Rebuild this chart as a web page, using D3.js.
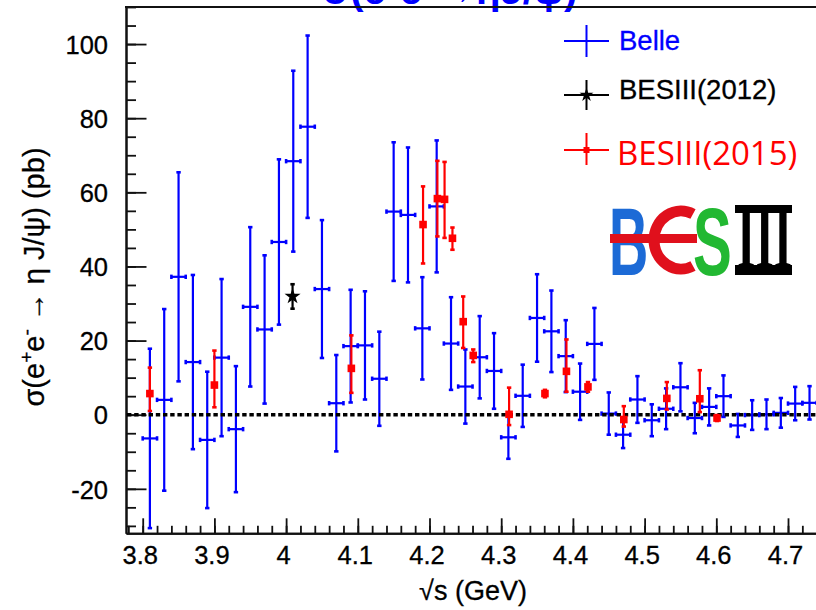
<!DOCTYPE html>
<html><head><meta charset="utf-8">
<script src="https://cdn.jsdelivr.net/npm/d3@7"></script>
<style>body{margin:0;background:#fff;} svg{display:block;}</style>
</head><body>
<svg id="c" width="816" height="610"></svg>
<script>
// ---------- data ----------
const belleX = [3.81,3.83,3.85,3.87,3.89,3.91,3.93,3.95,3.97,3.99,4.01,4.03,4.05,4.07,4.09,4.11,4.13,4.15,4.17,4.19,4.21,4.23,4.25,4.27,4.29,4.31,4.33,4.35,4.37,4.39,4.41,4.43,4.45,4.47,4.49,4.51,4.53,4.55,4.57,4.59,4.61,4.63,4.65,4.67,4.69,4.71,4.73];
const belleY = [-6.4,4.0,37.2,14.2,-6.8,15.4,-3.9,29.1,23.0,46.6,68.4,77.7,33.9,3.1,18.5,18.7,9.7,54.8,53.9,23.3,56.2,19.2,7.6,15.5,11.8,-6.1,5.1,26.1,22.5,15.8,6.2,19.1,0.3,-5.4,4.1,-1.5,1.6,7.4,-0.9,2.1,5.0,-2.9,-0.1,0.1,0.5,3.0,3.2];
const belleErr = [24.2,24.5,28.2,23.5,18.4,21.2,17.0,21.5,20.0,22.3,24.4,24.6,18.6,13.0,15.2,14.6,12.7,18.7,18.2,13.8,17.8,12.5,10.0,11.1,10.2,5.8,8.4,11.8,11.0,9.7,7.6,9.7,5.7,3.6,6.3,4.3,5.5,6.5,4.1,5.0,5.6,3.1,4.0,4.0,4.0,4.5,4.5];
const belleHalfBin = 0.01;

const bes15X = [3.810,3.900,4.091,4.191,4.211,4.221,4.232,4.247,4.261,4.311,4.361,4.391,4.421,4.471,4.531,4.577,4.601];
const bes15Y = [5.7,8.0,12.5,51.3,58.3,58.1,47.6,25.1,16.0,0.1,5.7,11.7,7.5,-1.3,4.4,4.3,-0.9];
const bes15ErrUp = [7.0,9.3,8.9,10.3,10.2,10.1,2.9,6.8,1.6,7.2,1.0,8.6,1.3,3.6,4.4,7.7,0.8];
const bes15ErrDn = [4.7,6.0,6.6,10.5,10.2,10.4,3.1,7.1,1.8,2.9,1.0,5.5,1.3,1.9,3.0,3.6,0.8];

const bes12X = [4.009];
const bes12Y = [31.9];
const bes12Err = [3.3];

const xTicks = [3.8,3.9,4.0,4.1,4.2,4.3,4.4,4.5,4.6,4.7];
const xTickLabels = ["3.8","3.9","4","4.1","4.2","4.3","4.4","4.5","4.6","4.7"];
const yTicks = [-20,0,20,40,60,80,100];
const yTickLabels = ["-20","0","20","40","60","80","100"];
const legendLabels = ["Belle","BESIII(2012)","BESIII(2015)"];

// ---------- setup ----------
const svg = d3.select("#c");
const FONT = "'Liberation Sans', Arial, Helvetica, sans-serif";
const BLUE = "#0000ff", RED = "#ff0000", BLACK = "#000";
const L = 126, T = 7, B = 533.3, R = 845;
const x = d3.scaleLinear().domain([3.7767, 4.7767 + (R - L - 717) / 717]).range([L, R]);
const y = d3.scaleLinear().domain([-32, 110]).range([B, T]);

// title (mostly clipped at the top, as in the reference)
svg.append("text").attr("x", 450).attr("y", 4).attr("text-anchor", "middle")
  .attr("font-family", FONT).attr("font-size", 40).attr("font-weight", "bold").attr("fill", BLUE)
  .text("σ(e⁺e⁻→ηJ/ψ)");

// axes: minor ticks
const minorX = d3.range(3.78, 4.78, 0.02).map(v => +v.toFixed(2));
const minorY = d3.range(-30, 111, 5);
const gxMinor = svg.append("g").attr("transform", `translate(0,${B})`)
  .call(d3.axisBottom(x).tickValues(minorX).tickSize(-7.5).tickSizeOuter(0).tickFormat(""));
const gyMinor = svg.append("g").attr("transform", `translate(${L},0)`)
  .call(d3.axisLeft(y).tickValues(minorY).tickSize(-10).tickSizeOuter(0).tickFormat(""));
// major
const gx = svg.append("g").attr("transform", `translate(0,${B})`)
  .call(d3.axisBottom(x).tickValues(xTicks).tickSize(-15).tickSizeOuter(0).tickPadding(13)
    .tickFormat((d, i) => xTickLabels[i]));
const gy = svg.append("g").attr("transform", `translate(${L},0)`)
  .call(d3.axisLeft(y).tickValues(yTicks).tickSize(-20.5).tickSizeOuter(0).tickPadding(18)
    .tickFormat((d, i) => yTickLabels[i]));
[gxMinor, gyMinor, gx, gy].forEach(g => {
  g.selectAll("line").attr("stroke", "#111").attr("stroke-width", 1.8);
  g.select(".domain").attr("stroke", "#111").attr("stroke-width", 2);
  g.attr("font-family", FONT).attr("font-size", 25.5);
  g.selectAll("text").attr("fill", "#000").attr("stroke", "#000").attr("stroke-width", 0.3);
});
gx.selectAll("text").attr("dx", -3);
gy.selectAll("text").attr("dy", "0.36em");
// frame top
svg.append("line").attr("x1", L - 1).attr("x2", R).attr("y1", T).attr("y2", T)
  .attr("stroke", "#111").attr("stroke-width", 2);

// axis titles
svg.append("text").attr("x", 473).attr("y", 600).attr("text-anchor", "middle")
  .attr("font-family", FONT).attr("font-size", 27).attr("stroke", "#000").attr("stroke-width", 0.3)
  .text("√s (GeV)");
const yt = svg.append("text").attr("transform", "translate(44,277) rotate(-90)")
  .attr("text-anchor", "middle").attr("font-family", FONT).attr("font-size", 29)
  .attr("stroke", "#000").attr("stroke-width", 0.3);
yt.append("tspan").text("σ(e");
yt.append("tspan").attr("font-size", 19).attr("dy", -11).text("+");
yt.append("tspan").attr("dy", 11).text("e");
yt.append("tspan").attr("font-size", 19).attr("dy", -11).text("-");
yt.append("tspan").attr("dy", 11).text(" → η J/ψ) (pb)");

// ---------- marks ----------
const plot = svg.append("g");
const cap = 2.2;
function errBar(g, cx, y1, y2, color, w) {
  g.append("line").attr("x1", cx).attr("x2", cx).attr("y1", y1).attr("y2", y2)
    .attr("stroke", color).attr("stroke-width", w);
  [y1, y2].forEach(yy => g.append("line").attr("x1", cx - cap).attr("x2", cx + cap)
    .attr("y1", yy).attr("y2", yy).attr("stroke", color).attr("stroke-width", 2.6));
}
// Belle
const belle = plot.append("g");
belleX.forEach((bx, i) => {
  const cy = y(belleY[i]);
  errBar(belle, x(bx), y(belleY[i] + belleErr[i]), y(belleY[i] - belleErr[i]), BLUE, 2.2);
  const xa = x(bx - belleHalfBin), xb = x(bx + belleHalfBin);
  belle.append("line").attr("x1", xa).attr("x2", xb).attr("y1", cy).attr("y2", cy)
    .attr("stroke", BLUE).attr("stroke-width", 2.2);
  [xa, xb].forEach(xx => belle.append("line").attr("x1", xx).attr("x2", xx)
    .attr("y1", cy - cap).attr("y2", cy + cap).attr("stroke", BLUE).attr("stroke-width", 2.6));
});
// zero line
plot.append("line").attr("x1", L + 1).attr("x2", R).attr("y1", y(0)).attr("y2", y(0))
  .attr("stroke", "#000").attr("stroke-width", 3.4).attr("stroke-dasharray", "4.4,2.8");
// BESIII 2015
const b15 = plot.append("g");
bes15X.forEach((bx, i) => {
  const cx = x(bx);
  errBar(b15, cx, y(bes15Y[i] + bes15ErrUp[i]), y(bes15Y[i] - bes15ErrDn[i]), RED, 2.2);
  b15.append("rect").attr("x", cx - 3.8).attr("y", y(bes15Y[i]) - 3.8).attr("width", 7.6).attr("height", 7.6)
    .attr("fill", RED);
});
// BESIII 2012
const b12 = plot.append("g");
bes12X.forEach((bx, i) => {
  const cx = x(bx);
  errBar(b12, cx, y(bes12Y[i] + bes12Err[i]), y(bes12Y[i] - bes12Err[i]), BLACK, 2.2);
  b12.append("path").attr("d", d3.symbol(d3.symbolStar, 80)())
    .attr("transform", `translate(${cx},${y(bes12Y[i])})`).attr("fill", BLACK);
});

// ---------- legend ----------
const lg = svg.append("g");
const legRows = [
  {y: 41, color: BLUE, textY: 50, font: FONT, size: 27.5, vy: [25, 57]},
  {y: 95, color: BLACK, textY: 99, font: FONT, size: 27.5, vy: [80, 110]},
  {y: 150, color: RED, textY: 165, font: "'Open Sans', sans-serif", size: 33, vy: [133, 165]}
];
legRows.forEach((r, i) => {
  lg.append("line").attr("x1", 564).attr("x2", 609).attr("y1", r.y).attr("y2", r.y)
    .attr("stroke", r.color).attr("stroke-width", 2);
  lg.append("line").attr("x1", 586.5).attr("x2", 586.5).attr("y1", r.vy[0]).attr("y2", r.vy[1])
    .attr("stroke", r.color).attr("stroke-width", 2);
  if (i === 1) lg.append("path").attr("d", d3.symbol(d3.symbolStar, 60)())
    .attr("transform", `translate(586.5,${r.y})`).attr("fill", BLACK);
  if (i === 2) lg.append("rect").attr("x", 583.5).attr("y", r.y - 3).attr("width", 6).attr("height", 6).attr("fill", RED);
  lg.append("text").attr("x", i === 2 ? 617 : 619).attr("y", r.textY)
    .attr("font-family", r.font).attr("font-size", r.size).attr("fill", r.color)
    .attr("stroke", r.color).attr("stroke-width", i === 2 ? 0 : 0.3).text(legendLabels[i]);
});

// ---------- BESIII logo ----------
const logo = svg.append("g");
logo.append("text").attr("transform", "translate(609,275) scale(0.56,1)")
  .attr("font-family", FONT).attr("font-weight", "bold").attr("font-size", 97)
  .attr("fill", "#1c6ad6").text("B");
logo.append("path")
  .attr("d", "M693,214 A27,29 0 1 0 693,266")
  .attr("fill", "none").attr("stroke", "#e0101c").attr("stroke-width", 11);
logo.append("rect").attr("x", 610).attr("y", 234).attr("width", 87).attr("height", 9).attr("fill", "#e0101c");
logo.append("text").attr("transform", "translate(693,275) scale(0.6,1)")
  .attr("font-family", FONT).attr("font-weight", "bold").attr("font-size", 97)
  .attr("fill", "#22b832").text("S");
logo.append("rect").attr("x", 735).attr("y", 205).attr("width", 57).attr("height", 8).attr("fill", "#000");
logo.append("rect").attr("x", 735).attr("y", 265).attr("width", 57).attr("height", 10).attr("fill", "#000");
logo.append("text").attr("transform", "translate(737,268) scale(1.05,2.0)")
  .attr("font-family", "'Liberation Serif', serif").attr("font-weight", "bold").attr("font-size", 45)
  .attr("fill", "#000").text("III");
</script>
</body></html>
